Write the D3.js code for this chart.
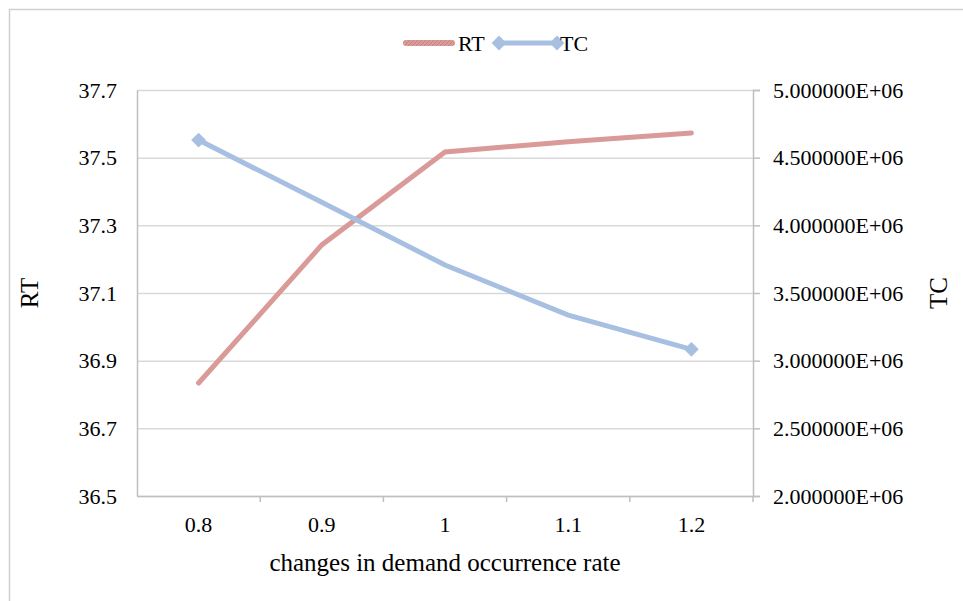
<!DOCTYPE html>
<html>
<head>
<meta charset="utf-8">
<script src="https://cdn.jsdelivr.net/npm/d3@7"></script>
<style>
  body { margin: 0; background: #fff; }
  svg text { font-family: "Liberation Serif", "Times New Roman", serif; fill: #000; }
</style>
</head>
<body>
<svg width="963" height="601"></svg>
<script>
const categories = ["0.8", "0.9", "1", "1.1", "1.2"];
const rtValues = [36.834, 37.242, 37.517, 37.547, 37.573];
const tcValues = [4630000, 4170000, 3707000, 3337000, 3084000];
const rtTicks = [36.5, 36.7, 36.9, 37.1, 37.3, 37.5, 37.7];
const tcTicks = [2000000, 2500000, 3000000, 3500000, 4000000, 4500000, 5000000];

const serif = "Liberation Serif, Times New Roman, serif";

const svg = d3.select("svg"),
      margin = { top: 90, right: 210, bottom: 105, left: 137 },
      width = +svg.attr("width") - margin.left - margin.right,
      height = +svg.attr("height") - margin.top - margin.bottom;

const rtColor = "#d99a98";
const tcColor = "#a7c0e2";
const gridColor = "#d9d9d9";
const axisColor = "#bfbfbf";

// outer chart border
svg.append("rect")
  .attr("x", 9.5).attr("y", 9.5)
  .attr("width", 970).attr("height", 610)
  .attr("fill", "none")
  .attr("stroke", "#d0d0d0")
  .attr("stroke-width", 1.5);

const g = svg.append("g").attr("transform", `translate(${margin.left},${margin.top})`);

const x = d3.scaleBand().domain(categories).range([0, width]);
const yL = d3.scaleLinear().domain([36.5, 37.7]).range([height, 0]);
const yR = d3.scaleLinear().domain([2000000, 5000000]).range([height, 0]);

// gridlines
g.append("g")
  .call(d3.axisLeft(yL).tickValues(rtTicks).tickSize(-width).tickFormat(""))
  .call(a => a.select(".domain").remove())
  .selectAll("line")
  .attr("stroke", gridColor)
  .attr("stroke-width", 1.5);

// left axis
const leftAxis = g.append("g")
  .call(d3.axisLeft(yL).tickValues(rtTicks).tickSize(0).tickPadding(20).tickFormat(d3.format(".1f")))
  .attr("font-family", serif);
leftAxis.select(".domain").attr("stroke", axisColor).attr("stroke-width", 1.5);
leftAxis.selectAll("text").style("font-size", "22px").style("font-family", serif);

// right axis
const rightAxis = g.append("g")
  .attr("transform", `translate(${width},0)`)
  .call(d3.axisRight(yR).tickValues(tcTicks).tickSize(7).tickPadding(13)
    .tickFormat(d => (d / 1e6).toFixed(6) + "E+06"))
  .attr("font-family", serif);
rightAxis.select(".domain").attr("stroke", axisColor).attr("stroke-width", 1.5);
rightAxis.selectAll("line").attr("stroke", axisColor).attr("stroke-width", 1.5);
rightAxis.selectAll("text").style("font-size", "22px").style("font-family", serif);

// bottom axis
const bottomAxis = g.append("g")
  .attr("transform", `translate(0,${height})`)
  .call(d3.axisBottom(x).tickSize(0).tickPadding(20))
  .attr("font-family", serif);
bottomAxis.select(".domain").attr("stroke", axisColor).attr("stroke-width", 1.5);
bottomAxis.selectAll("text").style("font-size", "22px").style("font-family", serif);
bottomAxis.selectAll(".sep")
  .data(categories)
  .enter()
  .append("line")
  .attr("x1", d => x(d) + x.bandwidth())
  .attr("x2", d => x(d) + x.bandwidth())
  .attr("y1", 0).attr("y2", 6)
  .attr("stroke", axisColor)
  .attr("stroke-width", 1.5);

// axis titles
svg.append("text")
  .attr("x", margin.left + width / 2)
  .attr("y", 571)
  .attr("text-anchor", "middle")
  .style("font-size", "25px")
  .text("changes in demand occurrence rate");

svg.append("text")
  .attr("transform", `translate(38,${margin.top + height / 2}) rotate(-90)`)
  .attr("text-anchor", "middle")
  .style("font-size", "25px")
  .text("RT");

svg.append("text")
  .attr("transform", `translate(947,${margin.top + height / 2}) rotate(-90)`)
  .attr("text-anchor", "middle")
  .style("font-size", "25px")
  .text("TC");

// lines
const cx = d => x(d) + x.bandwidth() / 2;

g.append("path")
  .datum(rtValues)
  .attr("fill", "none")
  .attr("stroke", rtColor)
  .attr("stroke-width", 5)
  .attr("stroke-linecap", "round")
  .attr("d", d3.line().x((d, i) => cx(categories[i])).y(d => yL(d)));

g.append("path")
  .datum(tcValues)
  .attr("fill", "none")
  .attr("stroke", tcColor)
  .attr("stroke-width", 5)
  .attr("d", d3.line().x((d, i) => cx(categories[i])).y(d => yR(d)));

// TC markers (shown at the ends only)
const diamond = d3.symbol().type(d3.symbolSquare).size(110);
g.selectAll(".tc-marker")
  .data(tcValues.map((v, i) => ({ v, i })).filter(d => d.i === 0 || d.i === tcValues.length - 1))
  .enter()
  .append("path")
  .attr("d", diamond)
  .attr("fill", tcColor)
  .attr("transform", d => `translate(${cx(categories[d.i])},${yR(d.v)}) rotate(45)`);

// legend
const defs = svg.append("defs");
const pat = defs.append("pattern")
  .attr("id", "rtHatch")
  .attr("patternUnits", "userSpaceOnUse")
  .attr("width", 4).attr("height", 4);
pat.append("rect").attr("width", 4).attr("height", 4).attr("fill", rtColor);
pat.append("path").attr("d", "M0,4 L4,0").attr("stroke", "#c77b79").attr("stroke-width", 0.8);

const legend = svg.append("g").attr("transform", "translate(403,43)");
legend.append("rect")
  .attr("x", 0).attr("y", -3)
  .attr("width", 52).attr("height", 6)
  .attr("rx", 3)
  .attr("fill", "url(#rtHatch)");
legend.append("text")
  .attr("x", 55).attr("y", 8)
  .style("font-size", "22px")
  .text("RT");

legend.append("line")
  .attr("x1", 96).attr("x2", 154)
  .attr("y1", 0).attr("y2", 0)
  .attr("stroke", tcColor)
  .attr("stroke-width", 5);
[96, 154].forEach(px => {
  legend.append("path")
    .attr("d", diamond)
    .attr("fill", tcColor)
    .attr("transform", `translate(${px},0) rotate(45)`);
});
legend.append("text")
  .attr("x", 157).attr("y", 8)
  .style("font-size", "22px")
  .text("TC");
</script>
</body>
</html>
